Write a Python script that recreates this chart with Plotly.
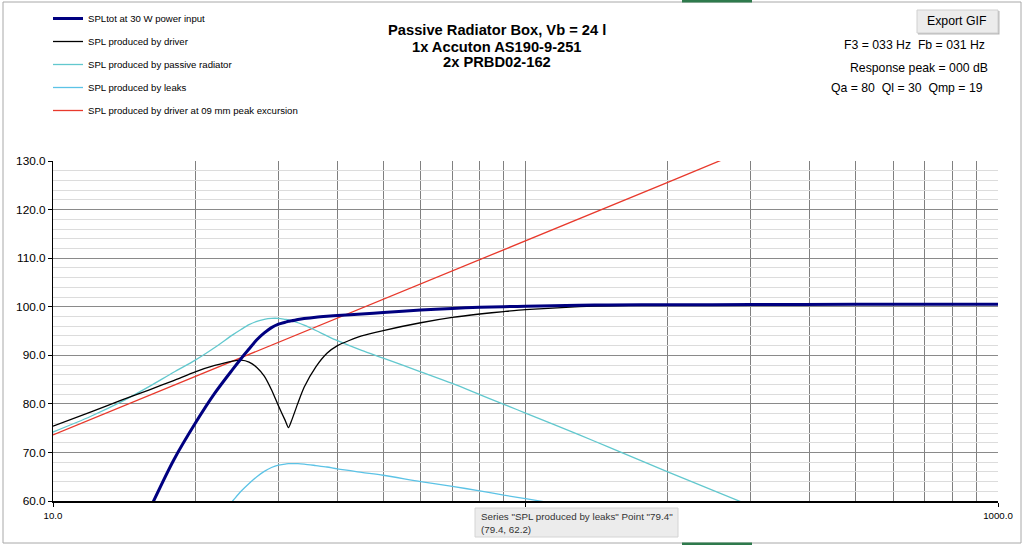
import plotly.graph_objects as go

W, H = 1024, 545
L, R, T, B = 53, 998, 161, 501  # plot area in px


def px(x):
    return (x - L) / (R - L)


def py(y):
    return (B - y) / (B - T)


FONT = "Liberation Sans, Arial, sans-serif"

# values (Hz, dB)
freq = [10, 12, 14, 16, 18, 20, 22, 24, 25, 26,
        27, 28, 29, 30, 31, 31.5, 32, 33, 34, 36,
        38, 40, 45, 50, 60, 70, 80, 90, 100, 130,
        150, 200, 300, 500, 700, 1000]

spl_tot = [None, None, None, 58.2, 68.4, 76.0, 82.2, 87.1, 89.3, 91.3,
           93.2, 94.6, 95.7, 96.4, 96.8, 97.0, 97.1, 97.35, 97.55, 97.85,
           98.05, 98.2, 98.5, 98.8, 99.3, 99.65, 99.9, 100.0, 100.1, 100.3,
           100.35, 100.4, 100.45, 100.5, 100.5, 100.5]

spl_driver = [75.4, 78.3, 80.8, 82.9, 84.8, 86.6, 87.9, 88.8, 89.0, 88.6,
              87.5, 85.7, 82.9, 79.6, 76.6, 75.1, 76.6, 80.2, 83.4, 87.6,
              90.4, 92.0, 94.0, 95.1, 96.7, 97.8, 98.5, 99.0, 99.4, 100.0,
              100.2, 100.4, 100.45, 100.5, 100.5, 100.5]

spl_pr = [74.2, 77.4, 80.5, 83.6, 86.5, 89.0, 91.6, 94.2, 95.3, 96.3,
          97.0, 97.4, 97.6, 97.6, 97.4, 97.3, 97.1, 96.7, 96.2, 95.1,
          94.0, 93.0, 91.0, 89.4, 86.6, 84.2, 81.9, 79.9, 78.1, 73.6,
          71.1, 66.0, 59.0, None, None, None]

spl_leaks = [None, None, None, None, None, None, 55.7, 60.0, 62.0, 63.6,
             65.0, 66.1, 66.9, 67.4, 67.6, 67.7, 67.7, 67.7, 67.6, 67.3,
             67.0, 66.6, 65.9, 65.3, 64.0, 63.0, 62.1, 61.2, 60.5, 58.6,
             57.6, 55.4, None, None, None, None]

red_freq = [10, 20, 50, 100, 200, 300]
spl_xmax = [73.6, 85.6, 101.6, 113.6, 125.6, 132.7]

x_ticks = [10, 100, 1000]
x_ticklabels = ["10.0", "", "1000.0"]

fig = go.Figure()
fig.add_trace(go.Scatter(x=red_freq, y=spl_xmax, mode="lines", legendrank=5, legendgroup="e",
                         name="SPL produced by driver at 09 mm peak excursion",
                         line=dict(color="#E8392C", width=1.3)))
fig.add_trace(go.Scatter(x=freq, y=spl_leaks, mode="lines", legendrank=4, legendgroup="d",
                         name="SPL produced by leaks",
                         line=dict(color="#5CC3E6", width=1.3, shape="spline", smoothing=0.8)))
fig.add_trace(go.Scatter(x=freq, y=spl_pr, mode="lines", legendrank=3, legendgroup="c",
                         name="SPL produced by passive radiator",
                         line=dict(color="#62C8CE", width=1.3, shape="spline", smoothing=0.8)))
fig.add_trace(go.Scatter(x=freq, y=spl_driver, mode="lines", legendrank=2, legendgroup="b",
                         name="SPL produced by driver",
                         line=dict(color="#000000", width=1.3, shape="spline", smoothing=0.6)))
fig.add_trace(go.Scatter(x=freq, y=spl_tot, mode="lines", legendrank=1, legendgroup="a",
                         name="SPLtot at 30 W power input",
                         line=dict(color="#000080", width=3, shape="spline", smoothing=0.8)))

fig.update_xaxes(type="log", range=[1, 3], tickmode="array", tickvals=x_ticks, ticktext=x_ticklabels,
                 showgrid=True, gridcolor="#808080", gridwidth=1,
                 ticks="outside", ticklen=4, tickcolor="#000",
                 showline=True, linecolor="#000", linewidth=2, zeroline=False,
                 tickfont=dict(family=FONT, size=9.7, color="#000"),
                 minor=dict(dtick="D1", showgrid=True, gridcolor="#808080", ticks=""))
fig.update_yaxes(range=[60, 130], dtick=10, tickformat=".1f",
                 showgrid=True, gridcolor="#8a8a8a", gridwidth=1,
                 ticks="outside", ticklen=4, tickcolor="#000",
                 showline=True, linecolor="#000", linewidth=1, zeroline=False,
                 tickfont=dict(family=FONT, size=11.8, color="#000"),
                 minor=dict(dtick=2, showgrid=True, gridcolor="#dcdcdc", ticks=""))

title_lines = ["Passive Radiator Box, Vb = 24 l", "1x Accuton AS190-9-251", "2x PRBD02-162"]
title_y = [30, 46.5, 62]
notes = ["F3 = 033 Hz\u00a0\u00a0Fb = 031 Hz", "Response peak = 000 dB", "Qa = 80\u00a0\u00a0Ql = 30\u00a0\u00a0Qmp = 19"]
notes_pos = [(914.5, 45), (919, 68), (906.5, 88)]

annotations = []
for txt, yy in zip(title_lines, title_y):
    annotations.append(dict(xref="paper", yref="paper", x=px(496.5), y=py(yy), text="<b>" + txt + "</b>",
                            showarrow=False, xanchor="center", yanchor="middle",
                            font=dict(family=FONT, size=14.7, color="#000")))
for txt, (xx, yy) in zip(notes, notes_pos):
    annotations.append(dict(xref="paper", yref="paper", x=px(xx), y=py(yy), text=txt,
                            showarrow=False, xanchor="center", yanchor="middle",
                            font=dict(family=FONT, size=12.25, color="#000")))
annotations.append(dict(xref="paper", yref="paper", x=px(957), y=py(21.5), text="Export GIF",
                        showarrow=False, xanchor="center", yanchor="middle",
                        font=dict(family=FONT, size=12.3, color="#000")))
annotations.append(dict(xref="paper", yref="paper", x=px(479), y=py(523), align="left",
                        text='Series "SPL produced by leaks" Point "79.4"<br>(79.4, 62.2)',
                        showarrow=False, xanchor="left", yanchor="middle",
                        font=dict(family=FONT, size=9.8, color="#333")))

shapes = [
    # outer chart frame
    dict(type="rect", xref="paper", yref="paper", x0=px(3), x1=px(1021), y0=py(543), y1=py(2),
         line=dict(color="#a8a8a8", width=1), layer="below"),
    # export button (shadow + face)
    dict(type="rect", xref="paper", yref="paper", x0=px(918), x1=px(999.5), y0=py(34.5), y1=py(11),
         fillcolor="#b8b8b8", line=dict(width=0)),
    dict(type="rect", xref="paper", yref="paper", x0=px(917), x1=px(998), y0=py(33), y1=py(10),
         fillcolor="#ececec", line=dict(color="#d0d0d0", width=1)),
    # tooltip box
    dict(type="rect", xref="paper", yref="paper", x0=px(475), x1=px(678), y0=py(537), y1=py(508),
         fillcolor="#ececec", line=dict(color="#d4d4d4", width=1)),
    # sheet tabs peeking at top/bottom
    dict(type="rect", xref="paper", yref="paper", x0=px(682), x1=px(752), y0=py(2.5), y1=py(0),
         fillcolor="#2e7a4c", line=dict(width=0)),
    dict(type="rect", xref="paper", yref="paper", x0=px(682), x1=px(752), y0=py(545), y1=py(542.5),
         fillcolor="#2e7a4c", line=dict(width=0)),
]

fig.update_layout(
    width=W, height=H,
    margin=dict(l=L, r=W - R, t=T, b=H - B, pad=0, autoexpand=False),
    paper_bgcolor="#ffffff", plot_bgcolor="#ffffff",
    font=dict(family=FONT, color="#000"),
    showlegend=True,
    legend=dict(xref="container", yref="container", x=48 / W, y=1 - 4 / H,
                xanchor="left", yanchor="top", traceorder="grouped", tracegroupgap=4,
                bgcolor="rgba(0,0,0,0)", font=dict(family=FONT, size=9.6, color="#000")),
    annotations=annotations,
    shapes=shapes,
)

# drop the default body margin so the figure sits at the window origin
fig.write_html("out.html", config={"displayModeBar": False},
               post_script="document.body.style.margin='0';")
